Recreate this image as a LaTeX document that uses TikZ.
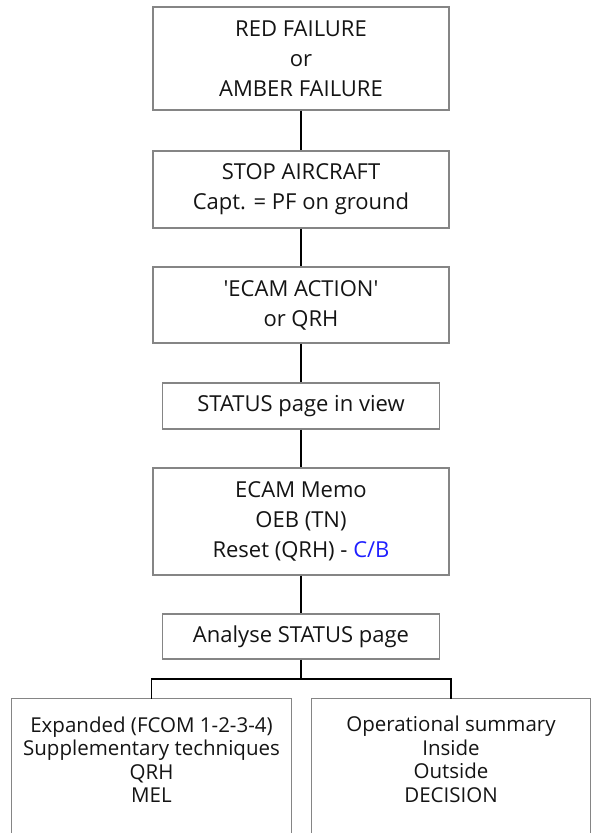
\documentclass[tikz,border=0pt]{standalone}
\usepackage{fontspec}
\setmainfont{Open Sans}[Ligatures=TeXOff]
\definecolor{boxgray}{HTML}{858585}
\definecolor{cbblue}{HTML}{1F1FFF}
\begin{document}
\begin{tikzpicture}[x=1pt,y=-1pt,
  every node/.style={text=black!92, align=center, inner sep=0pt},
  steptext/.style={font=\fontsize{22}{30}\selectfont},
  branchtext/.style={font=\fontsize{20.5}{23.5}\selectfont},
  stepbox/.style={steptext, draw=boxgray, line width=1.1pt},
  widebox/.style={stepbox, minimum width=296pt},
  narrowbox/.style={stepbox, minimum width=277pt},
  link/.style={draw=black, line width=1.3pt},
  openbox/.style={draw=boxgray, line width=1.1pt}]
\useasboundingbox (0,0) rectangle (593,833);

% main chain of steps
\node[widebox, minimum height=103pt] (b1) at (301,58.5)
  {RED FAILURE\\or\\AMBER FAILURE};
\node[widebox, minimum height=77pt] (b2) at (301,189.5)
  {STOP AIRCRAFT\\Capt. = PF on ground};
\node[widebox, minimum height=76pt] (b3) at (301,305)
  {'ECAM ACTION'\\or QRH};
\node[narrowbox, minimum height=46pt] (b4) at (301,406)
  {STATUS page in view};
\node[widebox, minimum height=107pt] (b5) at (301,521.5)
  {ECAM Memo\\OEB (TN)\\Reset (QRH) - \textcolor{cbblue}{C/B}};
\node[narrowbox, minimum height=45pt] (b6) at (301,636.5)
  {Analyse STATUS page};

% the two branches, running off the bottom edge
\node[branchtext, minimum width=279pt, minimum height=121pt] (l) at (151.5,759.5)
  {Expanded (FCOM 1-2-3-4)\\Supplementary techniques\\QRH\\MEL};
\node[branchtext, minimum width=278pt, minimum height=121pt] (r) at (451,759.5)
  {Operational summary\\Inside\\Outside\\DECISION};
\draw[openbox] ([yshift=-30pt]l.south west) -- (l.north west) -- (l.north east) -- ([yshift=-30pt]l.south east);
\draw[openbox] ([yshift=-30pt]r.south west) -- (r.north west) -- (r.north east) -- ([yshift=-30pt]r.south east);

% connectors
\draw[link] (b1.south) -- (b2.north);
\draw[link] (b2.south) -- (b3.north);
\draw[link] (b3.south) -- (b4.north);
\draw[link] (b4.south) -- (b5.north);
\draw[link] (b5.south) -- (b6.north);
\coordinate (bus) at (301,679);
\draw[link] (b6.south) -- (bus);
\draw[link] (l.north) |- (bus) -| (r.north);
\end{tikzpicture}
\end{document}
